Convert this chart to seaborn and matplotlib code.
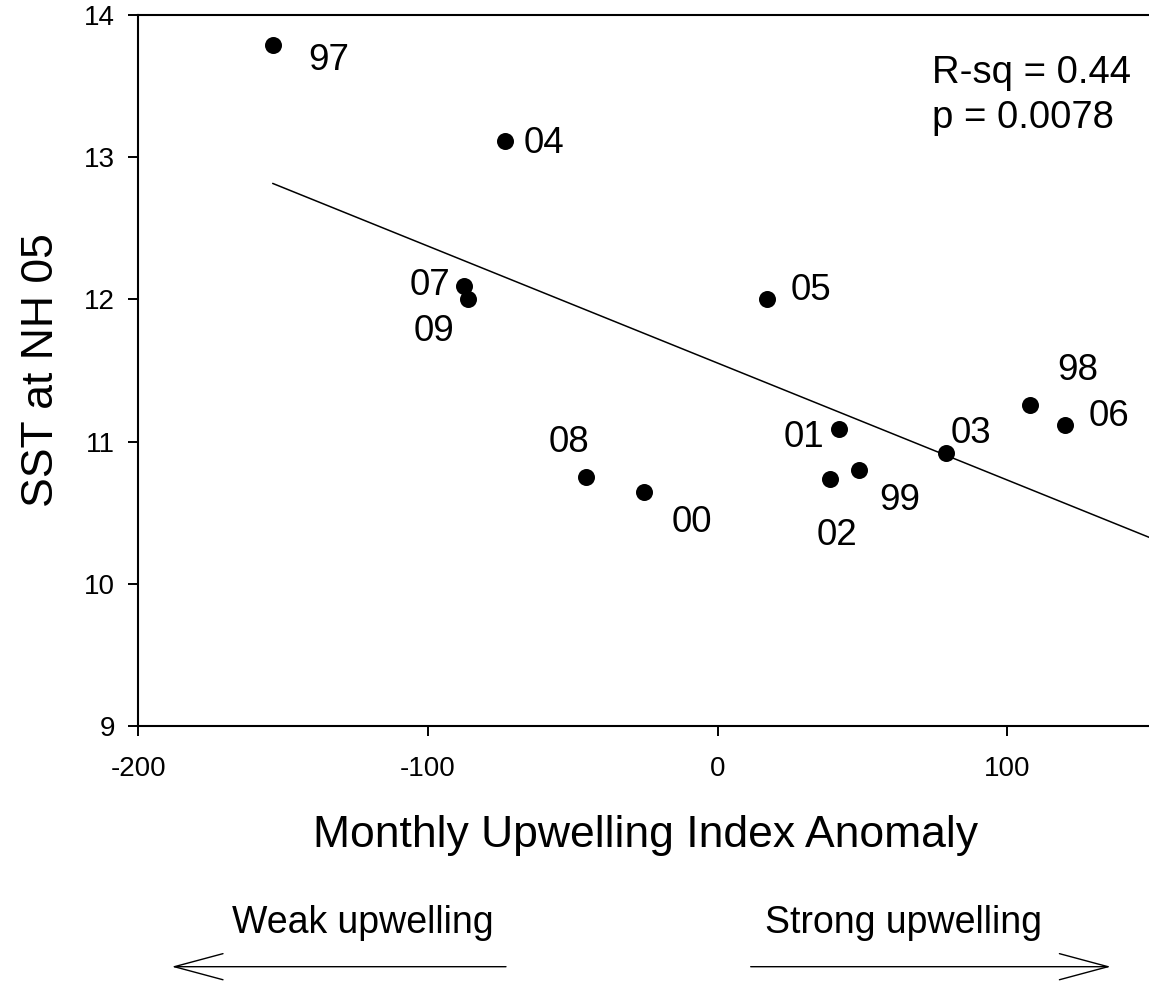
import numpy as np
import pandas as pd
import matplotlib
matplotlib.use("Agg")
import matplotlib.pyplot as plt
import seaborn as sns

# Upwelling index anomaly vs. sea-surface temperature at NH 05, one point per year
years = ["97", "98", "99", "00", "01", "02", "03", "04", "05", "06", "07", "08", "09"]
upwelling_anomaly = [-153.6, 108.0, 48.9, -25.3, 41.8, 38.8, 78.9, -73.4, 16.9, 120.0, -87.4, -45.3, -86.3]
sst_nh05 = [13.79, 11.26, 10.80, 10.645, 11.09, 10.74, 10.92, 13.115, 12.00, 11.12, 12.093, 10.75, 12.006]

stats_lines = ["R-sq = 0.44", "p = 0.0078"]
x_ticks = [-200, -100, 0, 100]
y_ticks = [9, 10, 11, 12, 13, 14]

# year label offsets (pixels from the point, label baseline)
label_offsets = {
    "97": (56, -25), "98": (47, 25), "99": (41, -40), "00": (48, -40),
    "01": (-35, -18), "02": (7, -66), "03": (25, 10), "04": (39, -12),
    "05": (44, -1), "06": (44, -1), "07": (-34, -9), "08": (-17, 25),
    "09": (-34, -42),
}

df = pd.DataFrame({"year": years, "uwi": upwelling_anomaly, "sst": sst_nh05})

sns.set_style("ticks")
plt.rcParams["font.family"] = ["Liberation Sans", "DejaVu Sans"]
plt.rcParams["text.color"] = "black"
plt.rcParams["axes.labelcolor"] = "black"
plt.rcParams["xtick.color"] = "black"
plt.rcParams["ytick.color"] = "black"

W, H, DPI = 1149, 986, 100
fig = plt.figure(figsize=(W / DPI, H / DPI), dpi=DPI)
ax = fig.add_axes([138.3 / W, 1 - 726 / H, (1152 - 138.3) / W, (726 - 15) / H])

sns.scatterplot(data=df, x="uwi", y="sst", ax=ax, color="black", s=150,
                linewidth=0, legend=False, zorder=3)

# least-squares line from the first point out to the right edge
slope, intercept = np.polyfit(df["uwi"], df["sst"], 1)
xfit = np.array([df["uwi"].min(), 150])
ax.plot(xfit, intercept + slope * xfit, color="black", lw=1.1, zorder=2)

for yr, xv, yv in zip(years, upwelling_anomaly, sst_nh05):
    dx, dy = label_offsets[yr]
    ax.annotate(yr, (xv, yv), xytext=(dx, dy), textcoords="offset pixels",
                ha="center", va="baseline", fontsize=26.5, color="black")

ax.text(74.0, 13.524, stats_lines[0], fontsize=27.5, ha="left", va="baseline", color="black")
ax.text(74.0, 13.203, stats_lines[1], fontsize=27.5, ha="left", va="baseline", color="black")

ax.set_xlim(-200, 150)
ax.set_ylim(9, 14)
ax.set_xticks(x_ticks)
ax.set_yticks(y_ticks)
ax.set_xticklabels([str(v) for v in x_ticks])
ax.set_yticklabels([str(v) for v in y_ticks])
ax.tick_params(axis="x", direction="out", length=7.2, width=1.4, pad=14.5,
               labelsize=20, colors="black")
ax.tick_params(axis="y", direction="out", length=7.2, width=1.4, pad=9.4,
               labelsize=20, colors="black")
for side in ["left", "bottom", "top", "right"]:
    ax.spines[side].set_visible(True)
    ax.spines[side].set_linewidth(1.5)
    ax.spines[side].set_color("black")

ax.set_xlabel("Monthly Upwelling Index Anomaly", fontsize=32, labelpad=24, color="black")
ax.set_ylabel("SST at NH 05", fontsize=32, labelpad=16, color="black")

# direction hints below the axis
fig.text(363 / W, 1 - 933 / H, "Weak upwelling", fontsize=27, ha="center", va="baseline", color="black")
fig.text(903.5 / W, 1 - 933 / H, "Strong upwelling", fontsize=27, ha="center", va="baseline", color="black")
arrow_style = "->, head_length=35, head_width=9.4"
ay = 1 - 966.7 / H
fig.add_artist(matplotlib.patches.FancyArrowPatch(
    (506 / W, ay), (171.7 / W, ay), transform=fig.transFigure,
    arrowstyle=arrow_style, mutation_scale=1, lw=1.0, color="black",
    shrinkA=0, shrinkB=0))
fig.add_artist(matplotlib.patches.FancyArrowPatch(
    (750.7 / W, ay), (1110.7 / W, ay), transform=fig.transFigure,
    arrowstyle=arrow_style, mutation_scale=1, lw=1.0, color="black",
    shrinkA=0, shrinkB=0))

fig.savefig("out.png", dpi=DPI, facecolor="white")
